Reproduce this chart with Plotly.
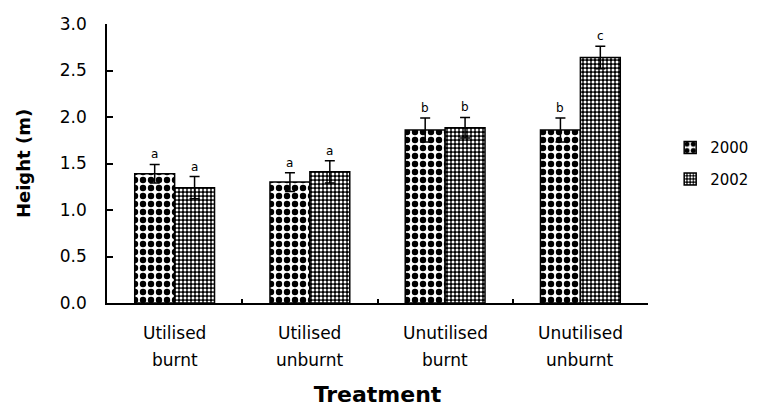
import plotly.graph_objects as go

categories = ["Utilised burnt", "Utilised unburnt", "Unutilised burnt", "Unutilised unburnt"]
label_line1 = ["Utilised", "Utilised", "Unutilised", "Unutilised"]
label_line2 = ["burnt", "unburnt", "burnt", "unburnt"]
years = ["2000", "2002"]
height_2000 = [1.39, 1.30, 1.86, 1.86]
height_2002 = [1.24, 1.41, 1.885, 2.64]
err_2000 = [0.10, 0.10, 0.13, 0.13]
err_2002 = [0.12, 0.12, 0.11, 0.12]
letters_2000 = ["a", "a", "b", "b"]
letters_2002 = ["a", "a", "b", "c"]
y_ticks = [0.0, 0.5, 1.0, 1.5, 2.0, 2.5, 3.0]

BARGAP = 0.41
FONT = "DejaVu Sans"

fig = go.Figure()

fig.add_trace(go.Bar(
    name=years[0], x=categories, y=height_2000, legendgroup="g1",
    marker=dict(color="white", line=dict(color="black", width=1.5),
                pattern=dict(shape=".", fgcolor="black", bgcolor="white",
                             fgopacity=1, size=8, solidity=0.5)),
    error_y=dict(type="data", array=err_2000, visible=True, color="black",
                 thickness=1.5, width=5),
))
fig.add_trace(go.Bar(
    name=years[1], x=categories, y=height_2002, legendgroup="g2",
    marker=dict(color="black", line=dict(color="black", width=1.5),
                pattern=dict(shape=".", fgcolor="white", bgcolor="black",
                             fgopacity=1, size=4, solidity=0.45)),
    error_y=dict(type="data", array=err_2002, visible=True, color="black",
                 thickness=1.5, width=5),
))

# significance letters above error bars
bw = (1 - BARGAP) / 2
annotations = []
for i in range(len(categories)):
    for off, vals, errs, lets in ((-bw / 2, height_2000, err_2000, letters_2000),
                                  (bw / 2, height_2002, err_2002, letters_2002)):
        annotations.append(dict(
            x=i + off, y=vals[i] + errs[i], xref="x", yref="y",
            text=lets[i], showarrow=False, yanchor="bottom", yshift=1,
            font=dict(family=FONT, size=12, color="black")))
    annotations.append(dict(
        x=i, y=0, xref="x", yref="y", text=label_line1[i], showarrow=False,
        yanchor="middle", yshift=-30, font=dict(family=FONT, size=17, color="black")))
    annotations.append(dict(
        x=i, y=0, xref="x", yref="y", text=label_line2[i], showarrow=False,
        yanchor="middle", yshift=-57, font=dict(family=FONT, size=17, color="black")))

# the page body adds an 8px offset, so the figure is 8px smaller than the window
fig.update_layout(
    width=753, height=402,
    margin=dict(l=99, r=113, t=16, b=107, autoexpand=False),
    paper_bgcolor="white", plot_bgcolor="white",
    barmode="group", bargap=BARGAP, bargroupgap=0,
    font=dict(family=FONT, size=16, color="black"),
    showlegend=True,
    legend=dict(x=1.041, y=0.616, xanchor="left", yanchor="top",
                traceorder="grouped", tracegroupgap=9,
                font=dict(family=FONT, size=15, color="black"),
                bgcolor="rgba(0,0,0,0)", borderwidth=0),
    annotations=annotations,
)

fig.update_xaxes(
    type="category", showline=True, linecolor="black", linewidth=1.5,
    ticks="inside", ticklen=4, tickwidth=1.5, tickcolor="black",
    tickson="boundaries", showticklabels=False, showgrid=False, zeroline=False,
    automargin=False,
    title=dict(text="<b>Treatment</b>", standoff=83,
               font=dict(family=FONT, size=22, color="black")),
)
fig.update_yaxes(
    range=[0, 3], tickvals=y_ticks, tickformat=".1f",
    showline=True, linecolor="black", linewidth=1.5,
    ticks="inside", ticklen=6, tickwidth=1.5, tickcolor="black",
    ticklabelstandoff=15, showgrid=False, zeroline=False, automargin=False,
    tickfont=dict(family=FONT, size=17, color="black"),
    title=dict(text="<b>Height (m)</b>", standoff=25,
               font=dict(family=FONT, size=18, color="black")),
)

fig.write_html("out.html")
